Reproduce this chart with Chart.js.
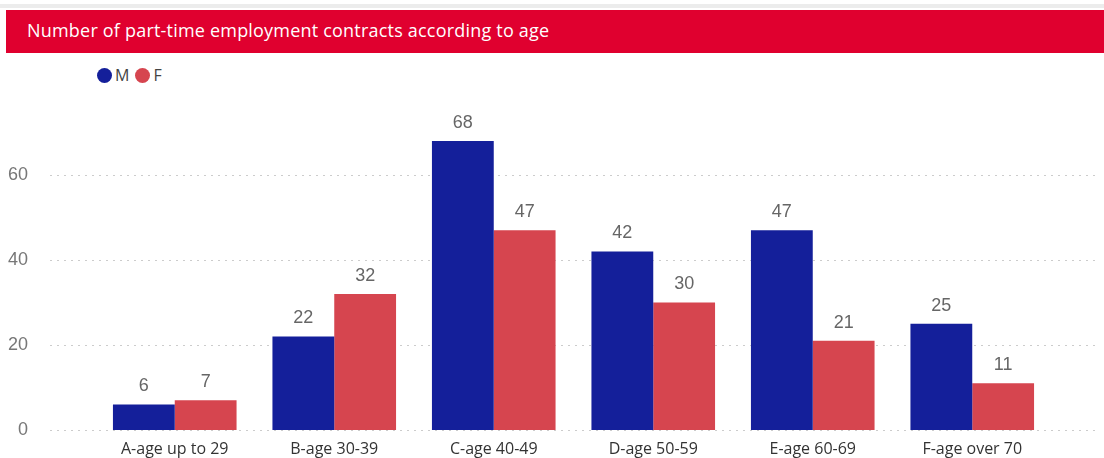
<!DOCTYPE html>
<html>
<head>
<meta charset="utf-8">
<script src="https://cdn.jsdelivr.net/npm/chart.js@4/dist/chart.umd.min.js"></script>
<style>
  html, body { margin: 0; padding: 0; background: #fff; }
  body { width: 1104px; height: 458px; position: relative; overflow: hidden; font-family: "Open Sans", sans-serif; }
  #topline { position: absolute; left: 0; top: 4px; width: 1104px; height: 4px; background: #ececec; }
  #banner { position: absolute; left: 6px; top: 10px; width: 1098px; height: 43px; background: #e0002f; }
  #banner span { position: absolute; left: 21px; top: 8px; color: #fff; font-size: 18px; letter-spacing: 0.2px; }
  #legend { position: absolute; left: 97px; top: 64px; font-size: 16px; color: #444; }
  #legend .item { display: inline-block; margin-right: 6px; }
  #legend .dot { display: inline-block; width: 15px; height: 15px; border-radius: 8px; vertical-align: -2px; margin-right: 3px; }
  #wrap { position: absolute; left: 0; top: 53px; width: 1104px; height: 405px; }
</style>
</head>
<body>
<div id="topline"></div>
<div id="banner"><span>Number of part-time employment contracts according to age</span></div>
<div id="legend"></div>
<div id="wrap"><canvas id="chart" width="1104" height="405"></canvas></div>
<script>
  // age groups and contract counts per gender
  const categories = ['A-age up to 29', 'B-age 30-39', 'C-age 40-49', 'D-age 50-59', 'E-age 60-69', 'F-age over 70'];
  const maleValues = [6, 22, 68, 42, 47, 25];
  const femaleValues = [7, 32, 47, 30, 21, 11];
  const yTicks = [0, 20, 40, 60];

  const seriesLabels = ['M', 'F'];
  const seriesColors = ['#141f9a', '#d6454f'];

  // simple html legend with round markers
  const legendEl = document.getElementById('legend');
  seriesLabels.forEach((lbl, i) => {
    const item = document.createElement('span');
    item.className = 'item';
    item.innerHTML = '<span class="dot" style="background:' + seriesColors[i] + '"></span>' + lbl;
    legendEl.appendChild(item);
  });

  // dotted horizontal gridlines that run wider than the bar area
  const dottedGrid = {
    id: 'dottedGrid',
    beforeDatasetsDraw(chart) {
      const ctx = chart.ctx;
      const y = chart.scales.y;
      ctx.save();
      ctx.strokeStyle = '#cccccc';
      ctx.lineWidth = 1;
      ctx.setLineDash([2, 5]);
      yTicks.forEach(v => {
        const py = Math.round(y.getPixelForValue(v)) + 0.5;
        ctx.beginPath();
        ctx.moveTo(50, py);
        ctx.lineTo(1100, py);
        ctx.stroke();
      });
      ctx.restore();
    }
  };

  // numbers above each bar
  const valueLabels = {
    id: 'valueLabels',
    afterDatasetsDraw(chart) {
      const ctx = chart.ctx;
      ctx.save();
      ctx.font = '18px "Liberation Sans", Arial, sans-serif';
      ctx.fillStyle = '#666';
      ctx.textAlign = 'center';
      ctx.textBaseline = 'bottom';
      chart.data.datasets.forEach((ds, i) => {
        chart.getDatasetMeta(i).data.forEach((bar, j) => {
          ctx.fillText(String(ds.data[j]), bar.x, bar.y - 9);
        });
      });
      ctx.restore();
    }
  };

  new Chart(document.getElementById('chart').getContext('2d'), {
    type: 'bar',
    data: {
      labels: categories,
      datasets: [
        { label: seriesLabels[0], data: maleValues, backgroundColor: seriesColors[0] },
        { label: seriesLabels[1], data: femaleValues, backgroundColor: seriesColors[1] }
      ]
    },
    options: {
      responsive: false,
      animation: false,
      layout: { padding: { left: 0, right: 52, top: 37, bottom: 0 } },
      categoryPercentage: 0.775,
      barPercentage: 1.0,
      plugins: {
        legend: { display: false },
        tooltip: { enabled: false }
      },
      scales: {
        x: {
          afterFit(scale) { scale.height = 28; scale.paddingLeft = 0; scale.paddingRight = 0; },
          grid: { display: false },
          border: { display: false },
          ticks: {
            color: '#333',
            font: { family: '"Open Sans", sans-serif', size: 16 },
            padding: 2,
            maxRotation: 0,
            autoSkip: false
          }
        },
        y: {
          min: 0,
          max: 80,
          afterFit(scale) { scale.width = 95; scale.paddingTop = 0; scale.paddingBottom = 0; },
          afterBuildTicks(scale) { scale.ticks = yTicks.map(v => ({ value: v })); },
          grid: { display: false },
          border: { display: false },
          ticks: {
            color: '#777',
            font: { family: '"Liberation Sans", Arial, sans-serif', size: 18 },
            padding: 59
          }
        }
      }
    },
    plugins: [dottedGrid, valueLabels]
  });
</script>
</body>
</html>
